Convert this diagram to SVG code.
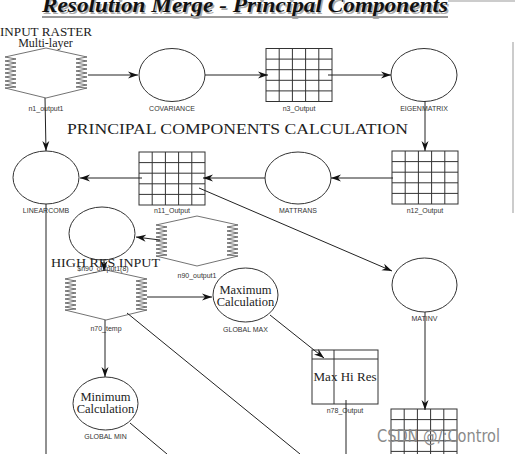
<svg xmlns="http://www.w3.org/2000/svg" xmlns:xlink="http://www.w3.org/1999/xlink" width="515" height="454" viewBox="0 0 515 454">
<style>
.sh{fill:none;stroke:#333;stroke-width:1}
.hx{fill:none;stroke:#444;stroke-width:0.75}
.lb{font-family:"Liberation Sans",Arial,sans-serif;font-size:7px;fill:#333;text-anchor:middle}
.sf{font-family:"Liberation Serif","Times New Roman",serif;fill:#222}
.cn{fill:none;stroke:#222;stroke-width:1}
</style>
<defs>
<marker id="ah" markerUnits="userSpaceOnUse" markerWidth="11" markerHeight="8" refX="10" refY="4" orient="auto">
<path d="M0,0.5 L10,4 L0,7.5 L3,4 Z" fill="#111"/>
</marker>
<path id="hex" d="M0,-25 L41,-16 L30,-14 L41,-12 L30,-10 L41,-8 L30,-6 L41,-4 L30,-2 L41,0 L30,2 L41,4 L30,6 L41,8 L30,10 L41,12 L30,14 L41,15 L0,25 L-41,15 L-30,14 L-41,12 L-30,10 L-41,8 L-30,6 L-41,4 L-30,2 L-41,0 L-30,-2 L-41,-4 L-30,-6 L-41,-8 L-30,-10 L-41,-12 L-30,-14 L-41,-16 Z" class="hx"/>
<g id="grid" class="sh">
<rect x="0" y="0" width="66" height="53"/>
<path d="M13.2,0V53M26.4,0V53M39.6,0V53M52.8,0V53M0,10.6H66M0,21.2H66M0,31.8H66M0,42.4H66"/>
</g>
</defs>
<rect width="515" height="454" fill="#fff"/>
<line x1="448" y1="1" x2="515" y2="1" stroke="#bbb" stroke-width="1.5"/>
<line x1="513" y1="42" x2="513" y2="213" stroke="#bbb" stroke-width="1.5"/>
<g id="title">
<text x="43.5" y="13.5" class="sf" font-size="20" font-weight="bold" font-style="italic" textLength="406" lengthAdjust="spacingAndGlyphs" style="fill:#aaa">Resolution Merge - Principal Components</text>
<text x="42" y="12" class="sf" font-size="20" font-weight="bold" font-style="italic" textLength="406" lengthAdjust="spacingAndGlyphs" style="fill:#111">Resolution Merge - Principal Components</text>
<line x1="42" y1="17" x2="448" y2="17" stroke="#999" stroke-width="2"/>
</g>
<text x="0" y="36" class="sf" font-size="12.5" textLength="92" lengthAdjust="spacingAndGlyphs">INPUT RASTER</text>
<text x="45.5" y="47" class="sf" font-size="12" text-anchor="middle">Multi-layer</text>
<text x="67" y="134" class="sf" font-size="15.5" textLength="341" lengthAdjust="spacingAndGlyphs">PRINCIPAL COMPONENTS CALCULATION</text>

<g id="n1_output1"><use xlink:href="#hex" x="46" y="73"/><text class="lb" x="46" y="111">n1_output1</text></g>
<g id="COVARIANCE"><ellipse class="sh" cx="172" cy="75" rx="33" ry="26.5"/><text class="lb" x="172" y="111">COVARIANCE</text></g>
<g id="n3_Output"><use xlink:href="#grid" x="266" y="48.5"/><text class="lb" x="299" y="111">n3_Output</text></g>
<g id="EIGENMATRIX"><ellipse class="sh" cx="424" cy="75" rx="33" ry="26.5"/><text class="lb" x="424" y="111">EIGENMATRIX</text></g>
<g id="LINEARCOMB"><ellipse class="sh" cx="46" cy="177.5" rx="33" ry="26.5"/><text class="lb" x="46" y="213">LINEARCOMB</text></g>
<g id="n11_Output"><use xlink:href="#grid" x="139" y="152"/><text class="lb" x="172" y="213">n11_Output</text></g>
<g id="MATTRANS"><ellipse class="sh" cx="298" cy="178" rx="33" ry="26"/><text class="lb" x="298" y="213">MATTRANS</text></g>
<g id="n12_Output"><use xlink:href="#grid" x="392" y="151"/><text class="lb" x="425" y="213">n12_Output</text></g>
<g id="n90_output1"><use xlink:href="#hex" x="197" y="241"/><text class="lb" x="197" y="278">n90_output1</text></g>
<g id="band_select"><ellipse class="sh" cx="102" cy="233.5" rx="33" ry="26.5"/><text class="lb" x="103" y="271">$n90_output1(8)</text></g>
<text x="51" y="267" class="sf" font-size="13" textLength="109" lengthAdjust="spacingAndGlyphs">HIGH RES INPUT</text>
<g id="n70_temp"><use xlink:href="#hex" x="106" y="295"/><text class="lb" x="106" y="331">n70_temp</text></g>
<g id="GLOBAL_MAX"><ellipse class="sh" cx="245.5" cy="295" rx="32.5" ry="27"/>
<text class="sf" x="245.5" y="294" font-size="12.5" text-anchor="middle">Maximum</text>
<text class="sf" x="245.5" y="306" font-size="12.5" text-anchor="middle">Calculation</text>
<text class="lb" x="245.5" y="332">GLOBAL MAX</text></g>
<g id="MATINV"><ellipse class="sh" cx="424.5" cy="285" rx="32.5" ry="27"/><text class="lb" x="424.5" y="321">MATINV</text></g>
<g id="n78_Output"><rect class="sh" x="312" y="350" width="66" height="54"/><path class="sh" d="M312,359H378M334,350V404"/>
<text class="sf" x="345" y="381" font-size="13.5" text-anchor="middle" textLength="63" lengthAdjust="spacingAndGlyphs">Max Hi Res</text>
<text class="lb" x="345" y="413">n78_Output</text></g>
<g id="GLOBAL_MIN"><ellipse class="sh" cx="105.5" cy="403.5" rx="32.5" ry="26.5"/>
<text class="sf" x="105.5" y="401" font-size="12.5" text-anchor="middle">Minimum</text>
<text class="sf" x="105.5" y="413" font-size="12.5" text-anchor="middle">Calculation</text>
<text class="lb" x="105.5" y="439">GLOBAL MIN</text></g>
<g id="n_lower_grid"><use xlink:href="#grid" x="391" y="409"/></g>

<g id="connectors">
<line class="cn" x1="88" y1="75" x2="138" y2="75" marker-end="url(#ah)"/>
<line class="cn" x1="205" y1="75" x2="268" y2="75" marker-end="url(#ah)"/>
<line class="cn" x1="328" y1="75" x2="391" y2="75" marker-end="url(#ah)"/>
<line class="cn" x1="425" y1="101" x2="425" y2="151" marker-end="url(#ah)"/>
<line class="cn" x1="393" y1="178" x2="331" y2="178" marker-end="url(#ah)"/>
<line class="cn" x1="265" y1="178" x2="203" y2="178" marker-end="url(#ah)"/>
<line class="cn" x1="142" y1="178" x2="80" y2="178" marker-end="url(#ah)"/>
<line class="cn" x1="45" y1="98" x2="46" y2="151" marker-end="url(#ah)"/>
<line class="cn" x1="199" y1="188" x2="392" y2="271" marker-end="url(#ah)"/>
<line class="cn" x1="160" y1="240" x2="136" y2="237" marker-end="url(#ah)"/>
<line class="cn" x1="104" y1="260" x2="104" y2="271" marker-end="url(#ah)"/>
<line class="cn" x1="147" y1="297" x2="212" y2="297" marker-end="url(#ah)"/>
<line class="cn" x1="270" y1="315" x2="324" y2="358" marker-end="url(#ah)"/>
<line class="cn" x1="105" y1="320" x2="105" y2="377" marker-end="url(#ah)"/>
<line class="cn" x1="425" y1="312" x2="425" y2="410" marker-end="url(#ah)"/>
<line class="cn" x1="46" y1="204" x2="46" y2="454" stroke="#555" stroke-width="1.5"/>
<line class="cn" x1="346" y1="400" x2="346" y2="454"/>
<line class="cn" x1="127" y1="313" x2="300" y2="454"/>
<line class="cn" x1="130" y1="423" x2="167" y2="454"/>
</g>
<text x="377" y="442" font-family="'DejaVu Sans',sans-serif" font-size="17" fill="#8a8a8a" textLength="123" lengthAdjust="spacingAndGlyphs">CSDN @/:Control</text>
</svg>
